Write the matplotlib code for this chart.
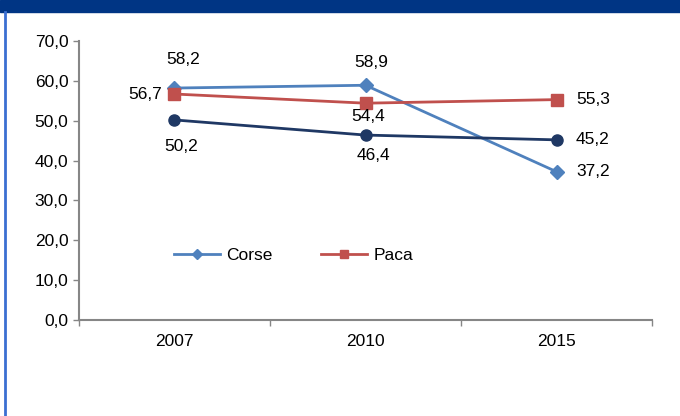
import matplotlib.pyplot as plt
import numpy as np
from matplotlib.patches import Rectangle
from matplotlib.lines import Line2D

years = ['2007', '2010', '2015']
corse = [58.2, 58.9, 37.2]
paca = [56.7, 54.4, 55.3]
third = [50.2, 46.4, 45.2]

plt.rcParams['font.family'] = ['Liberation Sans', 'DejaVu Sans']

fig = plt.figure(figsize=(6.8, 4.16), dpi=100)
fig.patches.append(Rectangle((0, 0.971), 1, 0.029, transform=fig.transFigure,
                             color='#003584', zorder=0))
fig.add_artist(Line2D([0.007, 0.007], [0, 0.971], transform=fig.transFigure,
                      color='#3b6fd1', lw=2))

ax = fig.add_axes([0.116, 0.2308, 0.843, 0.6706])
x = np.arange(len(years))

ax.plot(x, corse, color='#4f81bd', lw=2, marker='D', ms=7, label='Corse', zorder=3)
ax.plot(x, paca, color='#c0504d', lw=2, marker='s', ms=8, label='Paca', zorder=3)
ax.plot(x, third, color='#1f3864', lw=2, marker='o', ms=8, zorder=3)

fs = 12.5

def lab(v, xi, dx, dy, ha, va):
    ax.annotate(f'{v:.1f}'.replace('.', ','), (xi, v), xytext=(dx, dy),
                textcoords='offset points', ha=ha, va=va, fontsize=fs)

# data labels
lab(corse[0], x[0], 6, 15, 'center', 'bottom')
lab(corse[1], x[1], 4, 11, 'center', 'bottom')
lab(corse[2], x[2], 14, 0, 'left', 'center')
lab(paca[0], x[0], -9, 0, 'right', 'center')
lab(paca[1], x[1], 2, -4, 'center', 'top')
lab(paca[2], x[2], 14, 0, 'left', 'center')
lab(third[0], x[0], 5, -14, 'center', 'top')
lab(third[1], x[1], 6, -9, 'center', 'top')
lab(third[2], x[2], 14, 0, 'left', 'center')

ax.set_xlim(-0.5, 2.5)
ax.set_ylim(0, 70)
ax.set_yticks(np.arange(0, 71, 10))
ax.set_yticklabels([f'{v:.1f}'.replace('.', ',') for v in np.arange(0, 71, 10)], fontsize=fs)
ax.set_xticks([-0.5, 0.5, 1.5, 2.5])
ax.set_xticklabels([])
ax.set_xticks(x, minor=True)
ax.set_xticklabels(years, minor=True, fontsize=fs)
ax.tick_params(axis='x', which='minor', length=0, pad=10)
ax.tick_params(axis='both', which='major', color='#868686', length=4, width=1)
for s in ['top', 'right']:
    ax.spines[s].set_visible(False)
for s in ['left', 'bottom']:
    ax.spines[s].set_color('#868686')
    ax.spines[s].set_linewidth(1.5)

ax.legend(loc='center', bbox_to_anchor=(0.375, 0.23), ncol=2, frameon=False,
          fontsize=fs, handlelength=2.6, handletextpad=0.4, columnspacing=2.8,
          markerscale=0.8)

fig.savefig('out.png', dpi=100)
